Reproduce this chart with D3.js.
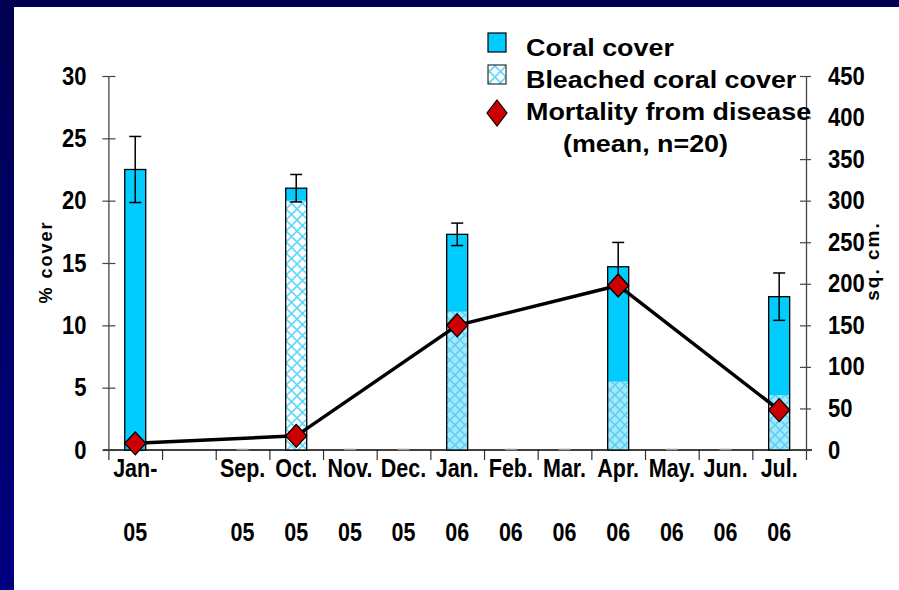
<!DOCTYPE html>
<html>
<head>
<meta charset="utf-8">
<script src="https://cdn.jsdelivr.net/npm/d3@7"></script>
<style>
  body { margin: 0; }
  svg { display: block; }
  text { font-family: "Liberation Sans", Arial, sans-serif; font-weight: bold; fill: #000; }
</style>
</head>
<body>
<div id="chart"></div>
<script>
// data
const months = ["Jan-", "", "Sep.", "Oct.", "Nov.", "Dec.", "Jan.", "Feb.", "Mar.", "Apr.", "May.", "Jun.", "Jul."];
const years = ["05", "", "05", "05", "05", "05", "06", "06", "06", "06", "06", "06", "06"];
const coralCover = [22.5, null, 0, 21.0, 0, 0, 17.3, 0, 0, 14.7, 0, 0, 12.3];
const bleachedCover = [0, null, 0, 20.0, 0, 0, 11.1, 0, 0, 5.5, 0, 0, 4.4];
const coralError = [2.65, null, 0, 1.1, 0, 0, 0.9, 0, 0, 1.95, 0, 0, 1.9];
const mortality = [8, null, null, 17, null, null, 150, null, null, 198, null, null, 48];
const leftTicks = [0, 5, 10, 15, 20, 25, 30];
const rightTicks = [0, 50, 100, 150, 200, 250, 300, 350, 400, 450];

const W = 899, H = 590;
const plot = {left: 108.4, right: 806, top: 76, bottom: 450};

const svg = d3.select("#chart").append("svg")
    .attr("width", W)
    .attr("height", H);

// slide frame
const defs = svg.append("defs");
const grad = defs.append("linearGradient").attr("id", "frame").attr("x1", 0).attr("y1", 0).attr("x2", 0).attr("y2", 1);
grad.append("stop").attr("offset", "0%").attr("stop-color", "#000050");
grad.append("stop").attr("offset", "100%").attr("stop-color", "#000080");
svg.append("rect").attr("width", W).attr("height", H).attr("fill", "url(#frame)");
svg.append("rect").attr("x", 14).attr("y", 7).attr("width", W - 14).attr("height", H - 7).attr("fill", "#fff");

// hatch patterns for bleached cover
function lattice(id, bg, stroke, size) {
    const p = defs.append("pattern").attr("id", id)
        .attr("patternUnits", "userSpaceOnUse")
        .attr("width", size).attr("height", size);
    p.append("rect").attr("width", size).attr("height", size).attr("fill", bg);
    p.append("path")
        .attr("d", `M0,0L${size},${size}M${size},0L0,${size}`)
        .attr("stroke", stroke).attr("stroke-width", 1.6).attr("fill", "none");
}
lattice("hatchLight", "#ffffff", "#5fd8fb", 11);
lattice("hatchDense", "#a8e8fb", "#5cd3f6", 10);

// scales
const x = d3.scaleBand().domain(d3.range(months.length)).range([plot.left, plot.right]).padding(0);
const xb = d3.scaleLinear().domain([0, months.length]).range([plot.left, plot.right]);
const y = d3.scaleLinear().domain([0, 30]).range([plot.bottom, plot.top]);
const y2 = d3.scaleLinear().domain([0, 450]).range([plot.bottom, plot.top]);

const barW = 21;
const cx = i => x(i) + x.bandwidth() / 2;

// narrow, tall tick lettering like the slide
function squeeze(sel, anchorX) {
    sel.each(function() {
        const t = d3.select(this);
        t.attr("font-size", 25).attr("font-family", "Liberation Sans, Arial, sans-serif")
            .attr("font-weight", "bold").attr("fill", "#000");
        const tx = +t.attr("x");
        t.attr("transform", `translate(${tx},0) scale(0.88,1) translate(${-tx},0)`);
    });
}

// axes
const gx = svg.append("g").attr("transform", `translate(0,${plot.bottom})`)
    .call(d3.axisBottom(xb).tickValues(d3.range(months.length + 1)).tickFormat("").tickSizeInner(10).tickSizeOuter(0));
gx.select(".domain").remove();
gx.selectAll(".tick line").attr("stroke", "#333").attr("stroke-width", 1.2);
svg.append("line").attr("x1", 103).attr("x2", 812).attr("y1", plot.bottom).attr("y2", plot.bottom)
    .attr("stroke", "#000").attr("stroke-width", 1.5);

const gl = svg.append("g").attr("transform", `translate(${plot.left},0)`)
    .call(d3.axisLeft(y).tickValues(leftTicks).tickSizeOuter(0).tickPadding(16));
gl.select(".domain").attr("stroke", "#444").attr("stroke-width", 1.3);
gl.selectAll(".tick line").attr("x1", 7).attr("x2", -6).attr("stroke", "#444").attr("stroke-width", 1.2);
squeeze(gl.selectAll(".tick text"));

const gr = svg.append("g").attr("transform", `translate(${plot.right},0)`)
    .call(d3.axisRight(y2).tickValues(rightTicks).tickSizeOuter(0).tickPadding(16));
gr.select(".domain").attr("stroke", "#444").attr("stroke-width", 1.3);
gr.selectAll(".tick line").attr("x1", -6).attr("x2", 5).attr("stroke", "#444").attr("stroke-width", 1.2);
squeeze(gr.selectAll(".tick text"));

// x labels in two rows
const xl = svg.append("g");
months.forEach((m, i) => {
    const g = xl.append("g").attr("transform", `translate(${cx(i)},0) scale(0.86,1)`);
    g.append("text").attr("text-anchor", "middle").attr("font-size", 25).attr("y", 477).text(m);
    g.append("text").attr("text-anchor", "middle").attr("font-size", 25).attr("y", 541).text(years[i]);
});

// axis titles
svg.append("text").attr("transform", `translate(52,262) rotate(-90)`)
    .attr("text-anchor", "middle").attr("font-size", 18).attr("letter-spacing", 2).text("% cover");
svg.append("text").attr("transform", `translate(879,261) rotate(-90)`)
    .attr("text-anchor", "middle").attr("font-size", 19).attr("letter-spacing", 2).text("sq. cm.");

// bars
const idx = d3.range(months.length).filter(i => coralCover[i] !== null);
svg.append("g").selectAll("rect").data(idx.filter(i => coralCover[i] > 0)).join("rect")
    .attr("x", i => cx(i) - barW / 2)
    .attr("y", i => y(coralCover[i]))
    .attr("width", barW)
    .attr("height", i => y(0) - y(coralCover[i]))
    .attr("fill", "#00ccff");

svg.append("g").selectAll("rect").data(idx.filter(i => bleachedCover[i] > 0)).join("rect")
    .attr("x", i => cx(i) - barW / 2)
    .attr("y", i => y(bleachedCover[i]))
    .attr("width", barW)
    .attr("height", i => y(0) - y(bleachedCover[i]))
    .attr("fill", i => bleachedCover[i] / coralCover[i] > 0.9 ? "url(#hatchLight)" : "url(#hatchDense)");

svg.append("g").selectAll("rect").data(idx.filter(i => coralCover[i] > 0)).join("rect")
    .attr("x", i => cx(i) - barW / 2)
    .attr("y", i => y(coralCover[i]))
    .attr("width", barW)
    .attr("height", i => y(0) - y(coralCover[i]))
    .attr("fill", "none")
    .attr("stroke", "#000").attr("stroke-width", 1.3);

// zero-height bars show as a short grey dash
svg.append("g").selectAll("line").data(idx.filter(i => coralCover[i] === 0)).join("line")
    .attr("x1", i => cx(i) - 6).attr("x2", i => cx(i) + 6)
    .attr("y1", y(0) - 0.5).attr("y2", y(0) - 0.5)
    .attr("stroke", "#999").attr("stroke-width", 1.5);

// error bars
const eg = svg.append("g").attr("stroke", "#000").attr("stroke-width", 1.5);
idx.filter(i => coralError[i] > 0).forEach(i => {
    const hi = y(coralCover[i] + coralError[i]), lo = y(coralCover[i] - coralError[i]);
    eg.append("line").attr("x1", cx(i)).attr("x2", cx(i)).attr("y1", hi).attr("y2", lo);
    eg.append("line").attr("x1", cx(i) - 6).attr("x2", cx(i) + 6).attr("y1", hi).attr("y2", hi);
    eg.append("line").attr("x1", cx(i) - 6).attr("x2", cx(i) + 6).attr("y1", lo).attr("y2", lo);
});

// mortality line and diamonds
const mIdx = d3.range(months.length).filter(i => mortality[i] !== null);
svg.append("path")
    .datum(mIdx)
    .attr("fill", "none")
    .attr("stroke", "#000")
    .attr("stroke-width", 3.5)
    .attr("d", d3.line().x(i => cx(i)).y(i => y2(mortality[i])));

const diamond = (hw, hh) => `M0,${-hh}L${hw},0L0,${hh}L${-hw},0Z`;
svg.append("g").selectAll("path").data(mIdx).join("path")
    .attr("transform", i => `translate(${cx(i)},${y2(mortality[i])})`)
    .attr("d", diamond(10.5, 11.5))
    .attr("fill", "#cc0000")
    .attr("stroke", "#000").attr("stroke-width", 1.3);

// legend
const lg = svg.append("g");
lg.append("rect").attr("x", 488).attr("y", 33).attr("width", 18).attr("height", 19)
    .attr("fill", "#00ccff").attr("stroke", "#000").attr("stroke-width", 1.2);
lg.append("rect").attr("x", 488).attr("y", 65).attr("width", 18).attr("height", 19)
    .attr("fill", "url(#hatchLight)").attr("stroke", "#333").attr("stroke-width", 1.2);
lg.append("path").attr("transform", "translate(497,113)").attr("d", diamond(10, 13))
    .attr("fill", "#cc0000").attr("stroke", "#000").attr("stroke-width", 1.2);
const legendText = [["Coral cover", 526, 56], ["Bleached coral cover", 526, 88], ["Mortality from disease", 526, 120], ["(mean, n=20)", 563, 152]];
legendText.forEach(d => {
    lg.append("text").attr("transform", `translate(${d[1]},${d[2]}) scale(1.12,1)`)
        .attr("font-size", 24).text(d[0]);
});
</script>
</body>
</html>
